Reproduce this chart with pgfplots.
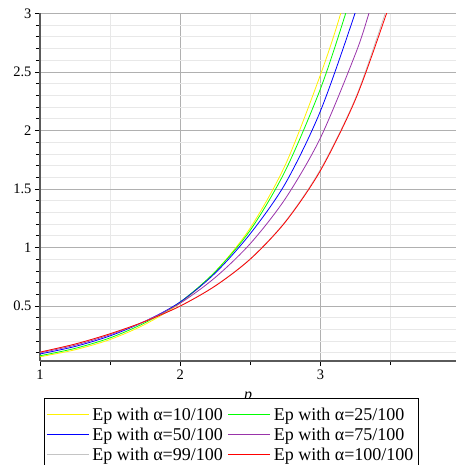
\documentclass[border=0pt]{standalone}
\usepackage{fontspec}
\setmainfont{Liberation Serif}
\usepackage{pgfplots}
\pgfplotsset{compat=1.18}
\usepackage{pgfplotstable}

\definecolor{mgrid}{RGB}{176,176,176}
\definecolor{ngrid}{RGB}{232,232,232}
\definecolor{axdark}{RGB}{90,90,90}
\definecolor{mpurple}{RGB}{153,51,170}
\definecolor{mgray}{RGB}{196,196,196}

% Ep against p
\pgfplotstableread{
p     ep
1     0.066
1.25  0.126
1.5   0.214
1.75  0.344
2     0.526
2.25  0.794
2.5   1.17
2.75  1.71
3     2.48
3.143 3.0
3.25  3.5
}\aten
\pgfplotstableread{
p     ep
1     0.075
1.25  0.138
1.5   0.228
1.75  0.358
2     0.535
2.25  0.795
2.5   1.15
2.75  1.66
3     2.36
3.181 3.01
3.3   3.5
}\atwentyfive
\pgfplotstableread{
p     ep
1     0.09
1.25  0.154
1.5   0.245
1.75  0.37
2     0.535
2.25  0.783
2.5   1.12
2.75  1.55
3     2.17
3.25  3.02
3.35  3.45
}\afifty
\pgfplotstableread{
p     ep
1     0.10
1.25  0.165
1.5   0.255
1.75  0.371
2     0.525
2.25  0.745
2.5   1.035
2.75  1.42
3     1.94
3.25  2.66
3.344 3.0
3.45  3.43
}\aseventyfive
\pgfplotstableread{
p     ep
1     0.105
1.25  0.174
1.5   0.262
1.75  0.368
2     0.501
2.25  0.674
2.5   0.905
2.75  1.225
3     1.67
3.25  2.28
3.46  3.0
3.55  3.32
}\aninetynine
\pgfplotstableread{
p     ep
1     0.106
1.25  0.175
1.5   0.263
1.75  0.369
2     0.50
2.25  0.672
2.5   0.902
2.75  1.22
3     1.66
3.25  2.27
3.464 2.98
3.55  3.3
}\ahundred

\begin{document}
\begin{tikzpicture}
\begin{axis}[
  name=ax,
  scale only axis,
  width=416pt, height=347.5pt,
  xmin=1, xmax=3.965,
  ymin=0.03, ymax=3,
  axis lines=left,
  axis line style={axdark, line width=1.3pt, -},
  xtick={1,2,3},
  minor xtick={1.5,2.5,3.5},
  ytick={0.5,1,1.5,2,2.5,3},
  minor ytick={0.1,0.2,0.3,0.4,0.6,0.7,0.8,0.9,1.1,1.2,1.3,1.4,1.6,1.7,1.8,1.9,2.1,2.2,2.3,2.4,2.6,2.7,2.8,2.9},
  grid=both,
  major grid style={mgrid, line width=0.9pt},
  minor grid style={ngrid, line width=0.8pt},
  tick align=outside,
  major tick length=5pt,
  minor tick length=4pt,
  tick style={black, line width=0.8pt},
  /pgf/number format/assume math mode=true,
  tick label style={font=\rmfamily\fontsize{14.5}{16}\selectfont},
  xlabel={\textit{p}},
  xlabel style={font=\rmfamily\fontsize{16}{18}\selectfont, yshift=-6pt},
  legend columns=2,
  legend cell align=left,
  legend style={at={(0.0096,-0.1065)}, anchor=north west,
    draw=black, line width=0.6pt, inner xsep=2pt, inner ysep=6.5pt,
    font=\rmfamily\fontsize{18}{20.5}\selectfont,
    nodes={inner ysep=3pt, inner xsep=3pt},
    /tikz/every even column/.append style={column sep=2pt},
    row sep=0pt},
  legend image code/.code={\draw[#1, line width=1pt] (0pt,0pt) -- (42pt,0pt);},
  every axis plot/.append style={line width=0.8pt},
]
\addplot[yellow, smooth] table[x=p, y=ep] {\aten};
\addlegendentry{Ep with α=10/100}
\addplot[green, smooth] table[x=p, y=ep] {\atwentyfive};
\addlegendentry{Ep with α=25/100}
\addplot[blue, smooth] table[x=p, y=ep] {\afifty};
\addlegendentry{Ep with α=50/100}
\addplot[mpurple, smooth] table[x=p, y=ep] {\aseventyfive};
\addlegendentry{Ep with α=75/100}
\addplot[mgray, smooth] table[x=p, y=ep] {\aninetynine};
\addlegendentry{Ep with α=99/100}
\addplot[red, smooth] table[x=p, y=ep] {\ahundred};
\addlegendentry{Ep with α=100/100}
\end{axis}
\pgfresetboundingbox
\path[use as bounding box] ([xshift=-40pt,yshift=-104pt]ax.south west) rectangle ([yshift=13.5pt]ax.north east);
\end{tikzpicture}
\end{document}
